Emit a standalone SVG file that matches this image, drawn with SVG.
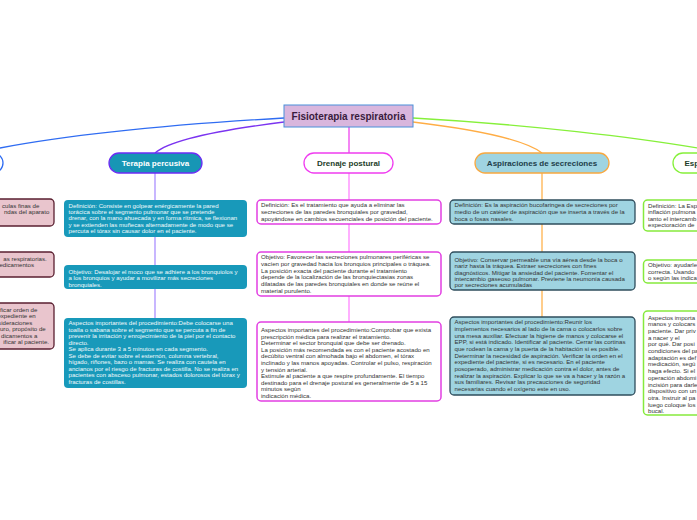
<svg xmlns="http://www.w3.org/2000/svg" width="697" height="520" viewBox="0 0 697 520">
<style>
text{font-family:"Liberation Sans",Arial,sans-serif}
.t{font-size:6.1px}
.w{fill:#f2fafc}
.d{fill:#333333}
.n{font-size:8px;font-weight:bold;text-anchor:middle}
.tb{fill:#1899ba}
.db{fill:#ffffff;stroke:#e23fe2;stroke-width:1.5}
.ab{fill:#9fd4e1;stroke:#2f4d5c;stroke-width:1.3}
.gb{fill:#ffffff;stroke:#86ea3c;stroke-width:1.5}
.lb{fill:#e9c5cd;stroke:#5a1f30;stroke-width:1.3}
.c{fill:none;stroke-width:1.3}
</style>
<rect width="697" height="520" fill="#ffffff"/>
<g id="connectors">
<path class="c" d="M284,118 C180,124 60,135 -20,152" stroke="#2f6cf2"/>
<path class="c" d="M284,122 C220,130 170,140 155,153" stroke="#7b34f0"/>
<path class="c" d="M349,127 L349,153" stroke="#ef45ef"/>
<path class="c" d="M413,122 C480,130 525,140 542,153" stroke="#ffad45"/>
<path class="c" d="M413,118 C520,124 640,137 720,152" stroke="#86f03a"/>
<path class="c" d="M155,173 L155,318" stroke="#ab90ff" stroke-width="1"/>
<path class="c" d="M349,173 L349,323" stroke="#ff85ff" stroke-width="1"/>
<path class="c" d="M542,173 L542,317" stroke="#ffb24d" stroke-width="1"/>
</g>
<g id="title">
<rect x="284" y="105" width="129" height="22" fill="#d9b6dd" stroke="#4a90d9" stroke-width="1"/>
<text x="348.5" y="119.8" font-size="10" font-weight="bold" text-anchor="middle" fill="#3a1c3d">Fisioterapia respiratoria</text>
</g>
<g id="node-left">
<rect x="-80" y="153" width="83" height="20" rx="10" fill="#ffffff" stroke="#2f6cf2" stroke-width="1.3"/>
</g>
<g id="node-terapia">
<rect x="109" y="153" width="93" height="20" rx="10" fill="#1796b5" stroke="#6c2cf5" stroke-width="1.3"/>
<text class="n" x="155.5" y="165.9" fill="#ffffff">Terapia percusiva</text>
</g>
<g id="node-drenaje">
<rect x="304" y="153" width="89" height="20" rx="10" fill="#ffffff" stroke="#f03cf0" stroke-width="1.3"/>
<text class="n" x="348.5" y="165.9" fill="#1e3d2a">Drenaje postural</text>
</g>
<g id="node-aspiraciones">
<rect x="475" y="153" width="134" height="20" rx="10" fill="#9fd4e1" stroke="#f8a840" stroke-width="1.3"/>
<text class="n" x="542" y="165.9" fill="#1e3d4a">Aspiraciones de secreciones</text>
</g>
<g id="node-right">
<rect x="673" y="153" width="90" height="20" rx="10" fill="#ffffff" stroke="#86f03a" stroke-width="1.3"/>
<text x="684.5" y="165.9" font-size="8" font-weight="bold" fill="#1e3d2a">Esp</text>
</g>
<g id="left-def">
<rect x="-60" y="199" width="114" height="27" rx="4" class="lb"/>
<text class="t d" text-anchor="end"><tspan x="39.3" y="207.5">culas finas de</tspan><tspan x="49.3" y="214">ndas del aparato</tspan></text>
</g>
<g id="left-obj">
<rect x="-60" y="252" width="114" height="25" rx="4" class="lb"/>
<text class="t d" text-anchor="end"><tspan x="46.7" y="260.5">as respiratorias.</tspan><tspan x="34" y="267">edicamentos</tspan></text>
</g>
<g id="left-asp">
<rect x="-60" y="303" width="114" height="46" rx="4" class="lb"/>
<text class="t d" text-anchor="end"><tspan x="37.3" y="311.5">ficar orden de</tspan><tspan x="35.7" y="318">expediente en</tspan><tspan x="32.3" y="324.5">sideraciones</tspan><tspan x="45.7" y="331">uro, propósito de</tspan><tspan x="37.3" y="337.5">dicamentos a</tspan><tspan x="49" y="344">ificar al paciente.</tspan></text>
</g>
<g id="terapia-def">
<rect x="64" y="200" width="183" height="37" rx="4" class="tb"/>
<text class="t w"><tspan x="68.5" y="207.5">Definición: Consiste en golpear enérgicamente la pared</tspan><tspan x="68.5" y="213.9">torácica sobre el segmento pulmonar que se pretende</tspan><tspan x="68.5" y="220.3">drenar, con la mano ahuecada y en forma rítmica, se flexionan</tspan><tspan x="68.5" y="226.7">y se extienden las muñecas alternadamente de modo que se</tspan><tspan x="68.5" y="233.1">percuta el tórax sin causar dolor en el paciente.</tspan></text>
</g>
<g id="terapia-obj">
<rect x="64" y="265" width="183" height="24" rx="4" class="tb"/>
<text class="t w"><tspan x="68.5" y="273.8">Objetivo: Desalojar el moco que se adhiere a los bronquiolos y</tspan><tspan x="68.5" y="280.2">a los bronquios y ayudar a movilizar más secreciones</tspan><tspan x="68.5" y="286.6">bronquiales.</tspan></text>
</g>
<g id="terapia-asp">
<rect x="64" y="318" width="183" height="70" rx="4" class="tb"/>
<text class="t w"><tspan x="68.5" y="325.3">Aspectos importantes del procedimiento:Debe colocarse una</tspan><tspan x="68.5" y="331.8">toalla o sabana sobre el segmento que se percuta a fin de</tspan><tspan x="68.5" y="338.3">prevenir la irritación y enrojecimiento de la piel por el contacto</tspan><tspan x="68.5" y="344.8">directo.</tspan><tspan x="68.5" y="351.3">Se aplica durante 3 a 5 minutos en cada segmento.</tspan><tspan x="68.5" y="357.8">Se debe de evitar sobre el esternón, columna vertebral,</tspan><tspan x="68.5" y="364.3">hígado, riñones, bazo o mamas. Se realiza con cautela en</tspan><tspan x="68.5" y="370.8">ancianos por el riesgo de fracturas de costilla. No se realiza en</tspan><tspan x="68.5" y="377.3">pacientes con absceso pulmonar, estados dolorosos del tórax y</tspan><tspan x="68.5" y="383.8">fracturas de costillas.</tspan></text>
</g>
<g id="drenaje-def">
<rect x="257" y="200" width="184" height="24" rx="4" class="db"/>
<text class="t d"><tspan x="261" y="207.3">Definición: Es el tratamiento que ayuda a eliminar las</tspan><tspan x="261" y="214">secreciones de las paredes bronquiales por gravedad,</tspan><tspan x="261" y="220.7">apoyándose en cambios secuenciales de posición del paciente.</tspan></text>
</g>
<g id="drenaje-obj">
<rect x="257" y="252" width="184" height="44" rx="4" class="db"/>
<text class="t d"><tspan x="261" y="259.3">Objetivo: Favorecer las secreciones pulmonares periféricas se</tspan><tspan x="261" y="266">vacíen por gravedad hacia los bronquios principales o tráquea.</tspan><tspan x="261" y="272.7">La posición exacta del paciente durante el tratamiento</tspan><tspan x="261" y="279.3">depende de la localización de las bronquiectasias zonas</tspan><tspan x="261" y="286">dilatadas de las paredes bronquiales en donde se reúne el</tspan><tspan x="261" y="292.7">material purulento.</tspan></text>
</g>
<g id="drenaje-asp">
<rect x="257" y="322" width="184" height="79" rx="4" class="db"/>
<text class="t d"><tspan x="261" y="332">Aspectos importantes del procedimiento:Comprobar que exista</tspan><tspan x="261" y="338.6">prescripción médica para realizar el tratamiento.</tspan><tspan x="261" y="345.2">Determinar el sector bronquial que debe ser drenado.</tspan><tspan x="261" y="351.8">La posición más recomendada es con el paciente acostado en</tspan><tspan x="261" y="358.4">decúbito ventral con almohada bajo el abdomen, el tórax</tspan><tspan x="261" y="365">inclinado y las manos apoyadas. Controlar el pulso, respiración</tspan><tspan x="261" y="371.6">y tensión arterial.</tspan><tspan x="261" y="378.2">Estimule al paciente a que respire profundamente. El tiempo</tspan><tspan x="261" y="384.8">destinado para el drenaje postural es generalmente de 5 a 15</tspan><tspan x="261" y="391.4">minutos según</tspan><tspan x="261" y="398">indicación médica.</tspan></text>
</g>
<g id="aspiraciones-def">
<rect x="450" y="200" width="185" height="24" rx="4" class="ab"/>
<text class="t d"><tspan x="454.5" y="207.3">Definición: Es la aspiración bucofaringea de secreciones por</tspan><tspan x="454.5" y="214">medio de un catéter de aspiración que se inserta a través de la</tspan><tspan x="454.5" y="220.7">boca o fosas nasales.</tspan></text>
</g>
<g id="aspiraciones-obj">
<rect x="450" y="252" width="185" height="38" rx="4" class="ab"/>
<text class="t d"><tspan x="454.5" y="262">Objetivo: Conservar permeable una vía aérea desde la boca o</tspan><tspan x="454.5" y="268.3">nariz hasta la tráquea. Extraer secreciones con fines</tspan><tspan x="454.5" y="274.6">diagnósticos. Mitigar la ansiedad del paciente. Fomentar el</tspan><tspan x="454.5" y="281">intercambio gaseoso pulmonar. Previene la neumonía causada</tspan><tspan x="454.5" y="287.3">por secreciones acumuladas</tspan></text>
</g>
<g id="aspiraciones-asp">
<rect x="450" y="317" width="185" height="78" rx="4" class="ab"/>
<text class="t d"><tspan x="454.5" y="324.3">Aspectos importantes del procedimiento:Reunir los</tspan><tspan x="454.5" y="331">implementos necesarios al lado de la cama o colocarlos sobre</tspan><tspan x="454.5" y="337.6">una mesa auxiliar. Efectuar la higiene de manos y colocarse el</tspan><tspan x="454.5" y="344.3">EPP, si está indicado. Identificar al paciente. Cerrar las cortinas</tspan><tspan x="454.5" y="351">que rodean la cama y la puerta de la habitación si es posible.</tspan><tspan x="454.5" y="357.6">Determinar la necesidad de aspiración. Verificar la orden en el</tspan><tspan x="454.5" y="364.3">expediente del paciente, si es necesario. En el paciente</tspan><tspan x="454.5" y="371">posoperado, administrar medicación contra el dolor, antes de</tspan><tspan x="454.5" y="377.6">realizar la aspiración. Explicar lo que se va a hacer y la razón a</tspan><tspan x="454.5" y="384.3">sus familiares. Revisar las precauciones de seguridad</tspan><tspan x="454.5" y="391">necesarias cuando el oxígeno este en uso.</tspan></text>
</g>
<g id="right-def">
<rect x="643.5" y="200" width="120" height="31" rx="4" class="gb"/>
<text class="t d"><tspan x="648" y="207.5">Definición: La Esp</tspan><tspan x="648" y="214.1">inflación pulmona</tspan><tspan x="648" y="220.7">tanto el intercamb</tspan><tspan x="648" y="227.3">expectoración de</tspan></text>
</g>
<g id="right-obj">
<rect x="643.5" y="260" width="120" height="23" rx="4" class="gb"/>
<text class="t d"><tspan x="648" y="267">Objetivo: ayudarle</tspan><tspan x="648" y="273.6">correcta. Usando</tspan><tspan x="648" y="280.2">o según las indica</tspan></text>
</g>
<g id="right-asp">
<rect x="643.5" y="311" width="120" height="104" rx="4" class="gb"/>
<text class="t d"><tspan x="648" y="319.5">Aspectos importa</tspan><tspan x="648" y="326.2">manos y colocars</tspan><tspan x="648" y="332.9">paciente. Dar priv</tspan><tspan x="648" y="339.6">a nacer y el</tspan><tspan x="648" y="346.3">por qué. Dar posi</tspan><tspan x="648" y="353">condiciones del pa</tspan><tspan x="648" y="359.7">adaptación es def</tspan><tspan x="648" y="366.4">medicación, segú</tspan><tspan x="648" y="373.1">haga efecto. Si el</tspan><tspan x="648" y="379.8">operación abdomi</tspan><tspan x="648" y="386.5">incisión para darle</tspan><tspan x="648" y="393.2">dispositivo con un</tspan><tspan x="648" y="399.9">otra. Instruir al pa</tspan><tspan x="648" y="406.6">luego coloque los</tspan><tspan x="648" y="413.3">bucal.</tspan></text>
</g>
</svg>
